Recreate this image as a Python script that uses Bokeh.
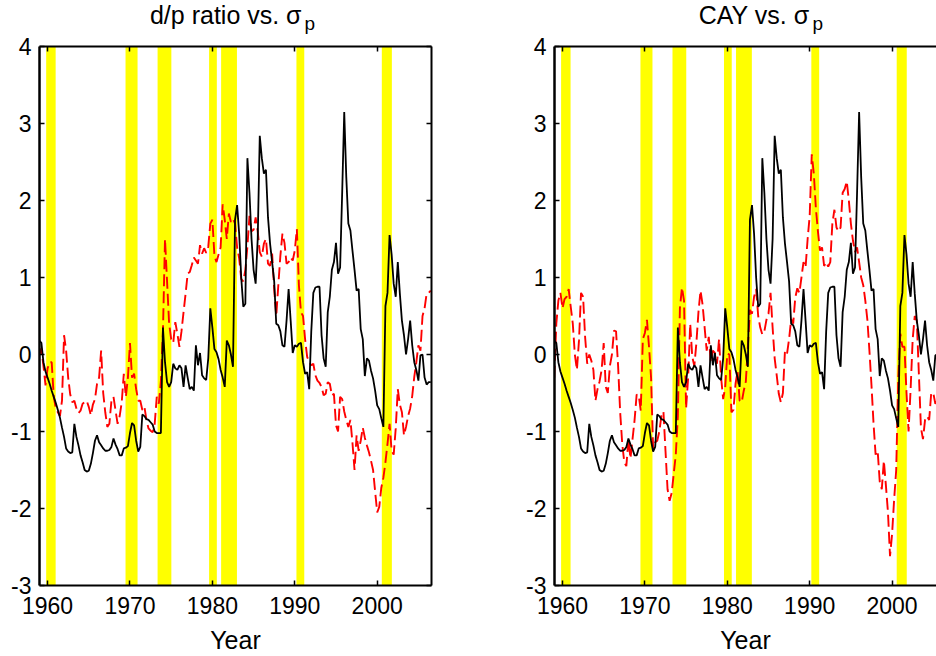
import numpy as np
from bokeh.plotting import figure
from bokeh.layouts import row, column
from bokeh.models import Range1d, LinearAxis, FixedTicker
from bokeh.core.properties import value
from bokeh.embed import file_html
from bokeh.resources import INLINE

# quarterly dates 1959Q1 .. 2006Q3
quarters = np.arange(1959.0, 2006.5 + 1e-9, 0.25)

sigma_p = [
    0.18, 0.15, -0.10, -0.22, -0.30, -0.38, -0.47, -0.55, -0.63, -0.72,
    -0.82, -0.95, -1.07, -1.22, -1.26, -1.28, -1.27, -0.90, -1.07, -1.18,
    -1.31, -1.40, -1.50, -1.52, -1.51, -1.42, -1.28, -1.12, -1.05, -1.14,
    -1.18, -1.22, -1.25, -1.25, -1.24, -1.20, -1.09, -1.17, -1.23, -1.31,
    -1.31, -1.22, -1.21, -1.19, -1.02, -0.89, -0.92, -1.12, -1.26, -1.20,
    -0.78, -0.80, -0.84, -0.85, -0.88, -0.91, -1.00, -1.02, -1.02, -1.02,
    0.35, -0.10, -0.36, -0.42, -0.36, -0.12, -0.18, -0.20, -0.14, -0.18,
    -0.42, -0.14, -0.30, -0.45, -0.42, -0.47, 0.12, -0.14, 0.02, -0.27,
    -0.31, -0.33, -0.05, 0.60, 0.35, 0.07, 0.03, -0.06, -0.20, -0.30,
    -0.42, 0.18, 0.12, 0.00, -0.16, 1.75, 1.94, 1.57, 1.00, 0.62,
    0.66, 2.55, 2.10, 1.50, 1.10, 0.92, 1.50, 2.84, 2.55, 2.35,
    2.40, 1.78, 1.44, 1.20, 0.95, 0.40, 0.38, 0.30, 0.12, 0.10,
    0.44, 0.85, 0.44, 0.02, 0.12, 0.10, 0.14, 0.15, -0.10, -0.25,
    -0.23, -0.45, 0.30, 0.80, 0.87, 0.88, 0.88, 0.25, -0.05, -0.16,
    0.55, 0.75, 1.10, 1.20, 1.45, 1.05, 1.13, 2.10, 3.15, 2.30,
    1.70, 1.61, 1.35, 1.10, 0.83, 0.85, 0.33, 0.20, -0.28, -0.05,
    -0.08, -0.21, -0.31, -0.47, -0.66, -0.71, -0.83, -0.94, 0.63, 0.80,
    1.55, 1.30, 0.92, 0.75, 1.20, 0.79, 0.44, 0.25, 0.00, 0.20,
    0.44, 0.12, -0.10, -0.20, -0.34, -0.01, 0.00, -0.30, -0.39, -0.36,
    -0.36,
]

dp_ratio = [
    0.00, 0.08, -0.15, -0.40, -0.18, -0.10, -0.10, -0.55, -0.70, -0.75,
    -0.80, -0.60, 0.25, 0.05, -0.30, -0.52, -0.62, -0.60, -0.70, -0.76,
    -0.73, -0.64, -0.62, -0.60, -0.68, -0.79, -0.65, -0.58, -0.38, -0.30,
    0.05, -0.50, -0.75, -0.94, -0.90, -0.60, -0.55, -0.73, -0.90, -0.80,
    -0.62, -0.25, -0.55, -0.30, 0.15, -0.30, -0.25, -0.45, -0.60, -0.60,
    -0.72, -0.68, -0.85, -0.96, -0.99, -1.01, -0.90, -0.55, -0.64, -0.35,
    0.30, 1.50, 0.95, 0.40, 0.20, 0.15, 0.42, 0.27, 0.10, 0.30,
    0.55, 0.79, 1.05, 1.07, 1.16, 1.26, 1.22, 1.18, 1.42, 1.31,
    1.38, 1.32, 1.40, 1.70, 1.75, 1.28, 1.20, 1.30, 1.39, 1.95,
    1.75, 1.50, 1.83, 1.72, 1.76, 1.70, 1.39, 1.25, 0.98, 0.95,
    1.10, 1.40, 1.80, 1.60, 1.62, 1.78, 1.60, 1.33, 1.27, 1.44,
    1.50, 1.18, 1.15, 1.31, 0.85, 0.50, 0.90, 1.28, 1.57, 1.45,
    1.18, 1.20, 1.26, 1.22, 1.35, 1.63, 0.90, 0.55, 0.50, 0.20,
    -0.03, -0.10, -0.14, -0.12, -0.27, -0.34, -0.37, -0.42, -0.53, -0.51,
    -0.36, -0.38, -0.53, -0.51, -0.92, -1.00, -0.55, -0.58, -0.74, -0.85,
    -0.94, -0.85, -1.15, -1.50, -1.05, -1.25, -1.12, -0.95, -1.08, -1.18,
    -1.27, -1.38, -1.50, -1.78, -2.05, -1.98, -1.73, -1.60, -1.40, -1.16,
    -0.90, -1.25, -1.30, -0.96, -0.45, -0.65, -0.75, -1.05, -0.94, -0.80,
    -0.70, -0.54, -0.29, -0.10, 0.12, 0.05, 0.50, 0.60, 0.79, 0.80,
    0.83,
]

cay = [
    -0.30, 0.40, 0.70, 0.80, 0.60, 0.72, 0.75, 0.85, 0.62, 0.40,
    0.00, -0.20, 0.18, 0.80, 0.75, 0.22, -0.12, 0.00, -0.08, -0.20,
    -0.60, -0.45, -0.35, -0.20, 0.15, -0.42, -0.50, -0.15, 0.00, 0.31,
    0.30, -0.15, -0.75, -1.16, -1.40, -1.45, -1.10, -1.35, -1.10, -0.85,
    -0.52, -0.53, -0.73, 0.20, 0.28, 0.45, 0.10, -0.30, -1.22, -1.14,
    -1.12, -1.00, -0.80, -0.74, -1.25, -1.75, -1.90, -1.80, -1.55, -1.30,
    -0.80, 0.60, 0.87, 0.70, -0.70, -0.30, 0.40, -0.03, -0.15, 0.15,
    0.55, 0.83, 0.65, 0.35, 0.05, 0.23, -0.10, 0.05, 0.02, -0.12,
    0.20, -0.30, -0.58, -0.42, 0.01, 0.00, -0.75, -0.72, -0.38, -0.22,
    -0.60, -0.62, -0.47, -0.35, 0.10, 0.58, 0.53, 0.75, 0.85, 0.50,
    0.35, 0.26, 0.30, 0.45, 0.53, 0.80, 0.35, -0.05, -0.27, -0.51,
    -0.62, -0.50, 0.05, 0.01, 0.20, 0.46, 0.40, 0.74, 0.86, 0.80,
    1.00, 1.20, 1.13, 1.50, 1.80, 2.60, 2.35, 1.90, 1.60, 1.35,
    1.39, 1.15, 1.20, 1.14, 1.20, 1.70, 1.88, 1.65, 1.60, 1.65,
    2.10, 2.15, 2.25, 2.00, 1.70, 1.48, 1.33, 1.39, 1.20, 1.00,
    0.90, 0.70, 0.45, 0.05, -0.40, -0.90, -1.30, -1.25, -1.65, -1.75,
    -1.38, -1.70, -2.05, -2.62, -2.33, -1.88, -1.50, -0.30, 0.27, 0.10,
    0.10, -0.50, -1.00, -0.45, 0.20, 0.50, 0.44, -0.25, -0.95, -1.10,
    -0.85, -0.80, -0.85, -0.50, -0.50, -0.64, -0.60, -0.55, -0.50, -0.45,
    -0.40,
]

recession_start = [1959.83, 1969.46, 1973.35, 1979.60, 1981.06, 1990.20, 2000.56]
recession_end = [1960.98, 1970.92, 1975.02, 1980.54, 1982.98, 1991.15, 2001.78]

x_ticks = [1960, 1970, 1980, 1990, 2000]
y_ticks = [-3, -2, -1, 0, 1, 2, 3, 4]
y_tick_labels = {v: str(v) for v in y_ticks}

FONT = "Liberation Sans"
TICK_SIZE = "23px"
TITLE_H = 34


def style_axis(ax, ticks, labelled, width=2):
    ax.ticker = FixedTicker(ticks=ticks)
    ax.major_tick_in = 5
    ax.major_tick_out = 0
    ax.minor_tick_in = 0
    ax.minor_tick_out = 0
    ax.axis_line_width = width
    ax.axis_line_color = "black"
    ax.major_tick_line_width = 1.5
    ax.major_tick_line_color = "black"
    ax.major_label_text_font = FONT
    if labelled:
        ax.major_label_text_font_size = TICK_SIZE
        ax.major_label_text_color = "black"
    else:
        ax.major_label_text_font_size = "1px"
        ax.major_label_standoff = 0
        ax.major_label_text_color = None


def make_title(title, x_start, x_end, frame_w, b_left, b_right, anchor):
    t = figure(
        frame_width=frame_w, frame_height=TITLE_H,
        x_range=Range1d(x_start, x_end), y_range=Range1d(0, TITLE_H),
        output_backend="svg", toolbar_location=None,
        min_border_left=b_left, min_border_right=b_right,
        min_border_top=0, min_border_bottom=0,
    )
    t.axis.visible = False
    t.grid.visible = False
    t.outline_line_color = None
    t.background_fill_color = "white"
    t.border_fill_color = "white"
    t.text(x=[anchor], y=[19.5], text=[title], text_align="right",
           text_baseline="middle", text_font=value(FONT),
           text_font_size="25px", text_color="black")
    t.text(x=[anchor], y=[11.5], x_offset=3, text=["p"], text_align="left",
           text_baseline="middle", text_font=value(FONT),
           text_font_size="19px", text_color="black")
    return t


def make_panel(red_values, x_start, x_end, frame_w, b_left, b_right, right_axis):
    p = figure(
        frame_width=frame_w, frame_height=539,
        x_range=Range1d(x_start, x_end), y_range=Range1d(-3, 4),
        output_backend="svg", toolbar_location=None,
        min_border_left=b_left, min_border_right=b_right,
        min_border_top=12, min_border_bottom=40,
    )
    p.outline_line_color = None
    p.background_fill_color = "white"
    p.border_fill_color = "white"
    p.xgrid.visible = False
    p.ygrid.visible = False

    style_axis(p.xaxis[0], x_ticks, True, 2)
    style_axis(p.yaxis[0], y_ticks, True, 2.5)
    p.yaxis[0].major_label_overrides = y_tick_labels
    p.yaxis[0].major_label_standoff = 8
    p.xaxis[0].major_label_standoff = 11
    p.xaxis[0].axis_label = "Year"
    p.xaxis[0].axis_label_text_font = FONT
    p.xaxis[0].axis_label_text_font_size = "25px"
    p.xaxis[0].axis_label_text_font_style = "normal"
    p.xaxis[0].axis_label_text_color = "black"
    p.xaxis[0].axis_label_standoff = 9

    top = LinearAxis()
    style_axis(top, x_ticks, False, 2)
    p.add_layout(top, "above")
    if right_axis:
        rax = LinearAxis()
        style_axis(rax, y_ticks, False, 2)
        p.add_layout(rax, "right")

    p.quad(left=recession_start, right=recession_end, bottom=-3, top=4,
           fill_color="#FFFF00", line_color=None)
    p.line(quarters, red_values, line_color="#FF0000", line_width=1.9, line_dash="12 5")
    p.line(quarters, sigma_p, line_color="black", line_width=1.8)
    return p


# left panel: frame 39..431 px, right panel: frame 554..936 px
L_START, L_END = 1959.02, 2006.59
R_START, R_END = 1959.03, 2005.39

t_left = make_title("d/p ratio vs. \u03c3", L_START, L_END, 392, 39, 37, 1990.82)
t_right = make_title("CAY vs. \u03c3", R_START, R_END, 382, 86, 0, 1989.98)
p_left = make_panel(dp_ratio, L_START, L_END, 392, 39, 37, True)
p_right = make_panel(cay, R_START, R_END, 382, 86, 0, False)

layout = column(row(t_left, t_right), row(p_left, p_right))
open("out.html", "w").write(file_html(layout, INLINE))
